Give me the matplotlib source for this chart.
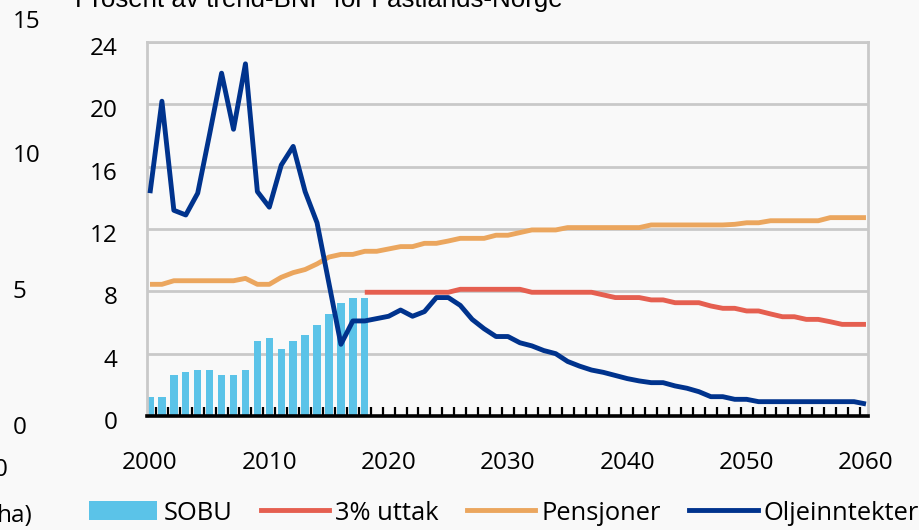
import matplotlib
matplotlib.use('Agg')
import matplotlib.pyplot as plt
import matplotlib.transforms as mtransforms
from matplotlib.patches import Patch
from matplotlib.lines import Line2D

# ---------------- data ----------------
years = list(range(2000, 2061))
sobu_years = list(range(2000, 2019))
sobu = [1.24, 1.24, 2.63, 2.8, 2.95, 2.95, 2.63, 2.63, 2.95, 4.83,
        5.0, 4.32, 4.83, 5.18, 5.86, 6.55, 7.23, 7.57, 7.57]

uttak_years = list(range(2018, 2061))
uttak = ([7.94] * 8 + [8.13] * 6 + [7.94] * 6 + [7.77] + [7.6] * 3 +
         [7.45] * 2 + [7.27] * 3 + [7.06] + [6.91] * 2 + [6.74] * 2 +
         [6.55] + [6.37] * 2 + [6.2] * 2 + [6.05] + [5.88] * 3)

pensjoner = ([8.45, 8.45] + [8.68] * 6 + [8.83, 8.45, 8.45] +
             [8.9, 9.2, 9.4, 9.76, 10.2, 10.37, 10.37, 10.57, 10.57, 10.72,
              10.87, 10.87, 11.08, 11.08, 11.23, 11.4, 11.4, 11.4, 11.6, 11.6,
              11.77, 11.94, 11.94, 11.94] +
             [12.09] * 7 + [12.26] * 7 + [12.3, 12.4, 12.4] + [12.53] * 5 +
             [12.73] * 4)

olje = [14.3, 20.2, 13.2, 12.9, 14.3, 18.1, 22.0, 18.4, 22.6, 14.4,
        13.4, 16.1, 17.3, 14.4, 12.4, 8.5, 4.6, 6.1, 6.1, 6.25,
        6.4, 6.8, 6.4, 6.7, 7.6, 7.6, 7.1, 6.2, 5.6, 5.1,
        5.1, 4.7, 4.5, 4.2, 4.0, 3.5, 3.2, 2.95, 2.8, 2.6,
        2.4, 2.25, 2.14, 2.14, 1.93, 1.78, 1.56, 1.24, 1.24, 1.07,
        1.07] + [0.92] * 9 + [0.77]

yticks = [0, 4, 8, 12, 16, 20, 24]
xlabel_years = [2000, 2010, 2020, 2030, 2040, 2050, 2060]
series_labels = ['SOBU', '3% uttak', 'Pensjoner', 'Oljeinntekter']
title = 'Prosent av trend-BNP for Fastlands-Norge'
stray_left = ['15', '10', '5', '0']

# ---------------- style ----------------
BG = '#f9f9f9'
C_SOBU = '#5bc3e8'
C_UTTAK = '#e55f50'
C_PENS = '#eba65e'
C_OLJE = '#00338d'
GRID = '#c9c9c9'
FONT = 'Open Sans'
FS = 17.5
LW = 3.5
W, H = 919, 530

plt.rcParams['font.family'] = [FONT, 'DejaVu Sans']

fig = plt.figure(figsize=(W / 100, H / 100), dpi=100, facecolor=BG)
ax = fig.add_axes([147 / W, 1 - 416 / H, (868 - 147) / W, (416 - 42) / H])
ax.set_facecolor(BG)

ax.bar(sobu_years, sobu, width=0.62, color=C_SOBU, zorder=2)
ax.plot(uttak_years, uttak, color=C_UTTAK, lw=LW, zorder=3,
        solid_capstyle='butt', solid_joinstyle='round')
ax.plot(years, pensjoner, color=C_PENS, lw=LW, zorder=3,
        solid_capstyle='butt', solid_joinstyle='round')
ax.plot(years, olje, color=C_OLJE, lw=LW, zorder=4,
        solid_capstyle='butt', solid_joinstyle='round')

ax.set_xlim(1999.75, 2060.17)
ax.set_ylim(0, 24)

ax.set_yticks(yticks)
ax.set_yticklabels([str(v) for v in yticks])
ax.yaxis.grid(True, color=GRID, lw=2.0, zorder=0)
ax.set_axisbelow(True)
ax.tick_params(axis='y', length=0, pad=21, labelsize=FS, labelcolor='black')

ax.set_xticks(xlabel_years)
ax.set_xticklabels([str(v) for v in xlabel_years])
ax.set_xticks([y + 0.5 for y in range(2000, 2060)], minor=True)
ax.tick_params(axis='x', which='major', length=0, pad=25, labelsize=FS)
ax.tick_params(axis='x', which='minor', direction='in', length=6.5,
               width=1.6, color='black')

for s in ['left', 'right', 'top']:
    ax.spines[s].set_color(GRID)
    ax.spines[s].set_linewidth(2.0)
ax.spines['bottom'].set_color('black')
ax.spines['bottom'].set_linewidth(2.6)
ax.spines['bottom'].set_zorder(5)

# shift y tick labels slightly down like the reference
off = mtransforms.ScaledTranslation(0, -4 / 100, fig.dpi_scale_trans)
for lab in ax.get_yticklabels():
    lab.set_transform(lab.get_transform() + off)

# legend
handles = [Patch(facecolor=C_SOBU, edgecolor='none'),
           Line2D([], [], color=C_UTTAK, lw=LW),
           Line2D([], [], color=C_PENS, lw=LW),
           Line2D([], [], color=C_OLJE, lw=LW)]
fig.legend(handles, series_labels, loc='center left',
           bbox_to_anchor=(89 / W, 1 - 513 / H), ncol=4, frameon=False,
           fontsize=18.4, handlelength=2.68, handleheight=0.76,
           handletextpad=0.24, columnspacing=1.1, borderpad=0,
           borderaxespad=0)

# cut-off title at the top
fig.text(75 / W, 1 - 6.5 / H, title, ha='left', va='baseline',
         fontsize=18.6, family=['Liberation Sans', 'DejaVu Sans'])

# stray labels from a neighbouring chart at the left edge
for lab, yp in zip(stray_left, [21.5, 156, 292, 428]):
    fig.text(13 / W, 1 - yp / H, lab, ha='left', va='center', fontsize=FS)
fig.text(8 / W, 1 - 470 / H, '0', ha='right', va='center', fontsize=FS)
fig.text(33 / W, 1 - 516 / H, 'ha)', ha='right', va='center', fontsize=FS)

fig.savefig('out.png', dpi=100, facecolor=BG)
